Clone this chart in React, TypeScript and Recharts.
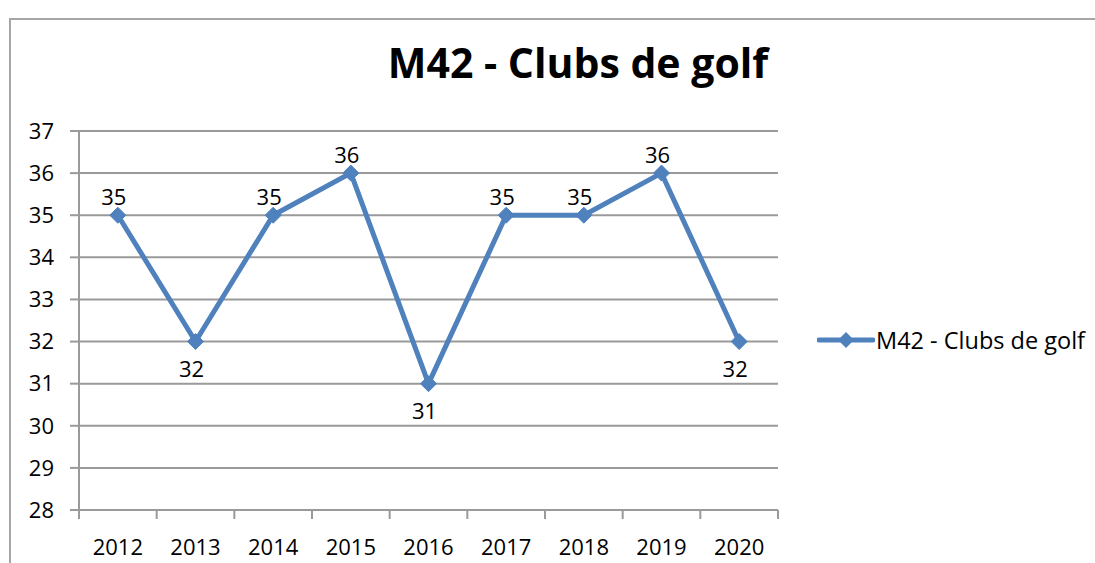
import React from 'react';
import { LineChart, Line, XAxis, YAxis, CartesianGrid, Legend } from 'recharts';

const years = ['2012', '2013', '2014', '2015', '2016', '2017', '2018', '2019', '2020'];
const values = [35, 32, 35, 36, 31, 35, 35, 36, 32];
const yTicks = [28, 29, 30, 31, 32, 33, 34, 35, 36, 37];
const seriesName = 'M42 - Clubs de golf';
const chartTitle = 'M42 - Clubs de golf';

const data = years.map((y, i) => ({ year: y, value: values[i] }));

const BLUE = '#4F81BD';
const GRID = '#9a9a9a';
const FONT = '"Open Sans", sans-serif';

const Diamond = (props: any) => {
  const { cx, cy } = props;
  if (cx == null || cy == null) return null;
  const r = 8;
  return (
    <polygon
      points={`${cx},${cy - r} ${cx + r},${cy} ${cx},${cy + r} ${cx - r},${cy}`}
      fill={BLUE}
      stroke={BLUE}
      strokeWidth={1}
    />
  );
};

const XTick = (props: any) => {
  const { x, y, payload, index, visibleTicksCount } = props;
  const off = payload.offset || 0;
  const isLast = index === (visibleTicksCount ?? years.length) - 1;
  return (
    <g>
      <line x1={x - off} x2={x - off} y1={y} y2={y + 9} stroke={GRID} strokeWidth={2} />
      {isLast && <line x1={x + off} x2={x + off} y1={y} y2={y + 9} stroke={GRID} strokeWidth={2} />}
      <text x={x} y={y + 36} textAnchor="middle" dominantBaseline="central" fontSize={22} fontFamily={FONT} fill="#000">
        {payload.value}
      </text>
    </g>
  );
};

const renderLabel = (props: any) => {
  const { x, y, value } = props;
  const above = value >= 35;
  return (
    <text
      x={x - 4}
      y={above ? y - 19 : y + 26}
      textAnchor="middle"
      dominantBaseline="central"
      fontSize={22}
      fontFamily={FONT}
      fill="#000"
    >
      {value}
    </text>
  );
};

const LegendContent = () => (
  <div style={{ display: 'flex', alignItems: 'center', fontFamily: FONT, fontSize: 23.5, color: '#000', whiteSpace: 'nowrap' }}>
    <svg width={58} height={20} style={{ display: 'block' }}>
      <line x1={2} x2={56} y1={10} y2={10} stroke={BLUE} strokeWidth={5} strokeLinecap="round" />
      <polygon points="29,2 37,10 29,18 21,10" fill={BLUE} />
    </svg>
    <span style={{ marginLeft: 1 }}>{seriesName}</span>
  </div>
);

export default function App() {
  return (
    <div style={{ position: 'fixed', left: 0, top: 0, width: 1095, height: 563, overflow: 'hidden', background: '#fff' }}>
      <div
        style={{
          position: 'absolute',
          left: 9,
          top: 18,
          width: 1200,
          height: 700,
          border: '2px solid #a6a6a6',
          boxSizing: 'border-box',
        }}
      />
      <div
        style={{
          position: 'absolute',
          left: 578,
          top: 62,
          transform: 'translate(-50%, -50%)',
          fontFamily: FONT,
          fontWeight: 700,
          fontSize: 41,
          whiteSpace: 'nowrap',
          color: '#000',
        }}
      >
        {chartTitle}
      </div>
      <div style={{ position: 'absolute', left: 0, top: 0 }}>
        <LineChart width={1095} height={563} data={data} margin={{ top: 131, right: 317, bottom: 23, left: 29 }}>
          <CartesianGrid vertical={false} stroke={GRID} strokeWidth={2} />
          <XAxis
            dataKey="year"
            scale="band"
            height={30}
            axisLine={{ stroke: GRID, strokeWidth: 2 }}
            tickLine={false}
            tickSize={0}
            tickMargin={0}
            tick={<XTick />}
            interval={0}
          />
          <YAxis
            width={50}
            domain={[28, 37]}
            ticks={yTicks}
            interval={0}
            axisLine={{ stroke: GRID, strokeWidth: 2 }}
            tickLine={{ stroke: GRID, strokeWidth: 2 }}
            tickSize={9}
            tickMargin={16}
            tick={{ fontSize: 22, fontFamily: FONT, fill: '#000' }}
          />
          <Legend
            layout="horizontal"
            align="center"
            verticalAlign="middle"
            content={<LegendContent />}
            wrapperStyle={{ position: 'absolute', left: 817, top: 324, width: 'auto' }}
          />
          <Line
            type="linear"
            dataKey="value"
            name={seriesName}
            stroke={BLUE}
            strokeWidth={5}
            dot={<Diamond />}
            activeDot={false}
            label={renderLabel}
            isAnimationActive={false}
          />
        </LineChart>
      </div>
    </div>
  );
}
